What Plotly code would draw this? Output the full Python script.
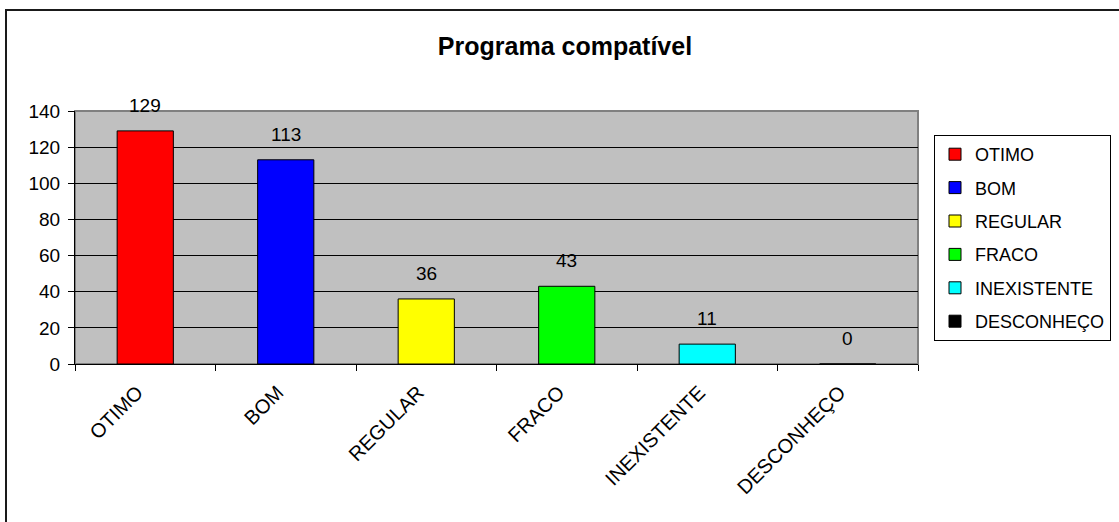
import plotly.graph_objects as go

categories = ["OTIMO", "BOM", "REGULAR", "FRACO", "INEXISTENTE", "DESCONHEÇO"]
values = [129, 113, 36, 43, 11, 0]
colors = ["#FF0000", "#0000FF", "#FFFF00", "#00FF00", "#00FFFF", "#000000"]
title_text = "Programa compatível"
y_ticks = [0, 20, 40, 60, 80, 100, 120, 140]

FONT = "Liberation Sans, Arial, sans-serif"

fig = go.Figure()
for i, (cat, val, col) in enumerate(zip(categories, values, colors)):
    fig.add_trace(go.Bar(
        x=[cat], y=[val], name=cat, width=0.4,
        marker=dict(color=col, line=dict(color="#000000", width=1)),
        legendgroup=f"g{i}", hoverinfo="x+y",
    ))
    fig.add_annotation(
        x=cat, y=val, text=str(val), showarrow=False,
        yanchor="bottom", yshift=13,
        font=dict(family=FONT, size=19, color="#000000"),
    )

L, R, T, B = 75, 201, 111, 158
W, H = 1119, 522
PW, PH = W - L - R, H - T - B

# outer chart border
fig.add_shape(type="rect", xref="paper", yref="paper",
              xsizemode="pixel", ysizemode="pixel", xanchor=0, yanchor=1,
              x0=6 - L, x1=W + 50 - L, y0=-(H + 50 - T), y1=T - 10,
              line=dict(color="#1a1a1a", width=2), layer="below")
# plot-area frame
fig.add_shape(type="rect", xref="paper", yref="paper",
              x0=0, x1=1, y0=0, y1=1,
              line=dict(color="#808080", width=2), layer="below")

fig.update_layout(
    width=W, height=H,
    margin=dict(l=L, r=R, t=T, b=B, autoexpand=False),
    paper_bgcolor="#FFFFFF", plot_bgcolor="#C0C0C0",
    barmode="overlay",
    font=dict(family=FONT, size=19, color="#000000"),
    title=dict(text=f"<b>{title_text}</b>", x=(565 - L) / PW, xref="paper", xanchor="center",
               y=1 - 46 / H, yanchor="middle",
               font=dict(family=FONT, size=25, color="#000000")),
    legend=dict(x=(934 - L) / PW, xanchor="left",
                y=(H - B - 135) / PH, yanchor="top",
                bordercolor="#000000", borderwidth=1, bgcolor="#FFFFFF",
                font=dict(family=FONT, size=18, color="#000000"),
                itemwidth=30, tracegroupgap=7, traceorder="grouped"),
    showlegend=True,
)
fig.update_xaxes(type="category", categoryorder="array", categoryarray=categories,
                 tickangle=-45, ticks="outside", ticklen=6, tickcolor="#000000",
                 tickson="boundaries", showline=True, linecolor="#000000", linewidth=1,
                 ticklabelstandoff=8, ticklabelshift=-8,
                 showgrid=False, tickfont=dict(family=FONT, size=20, color="#000000"))
fig.update_yaxes(range=[0, 140], tickvals=y_ticks, ticks="outside", ticklen=6,
                 tickcolor="#000000", showline=True, linecolor="#000000", linewidth=1,
                 ticklabelstandoff=4,
                 showgrid=True, gridcolor="#000000", gridwidth=1, zeroline=False,
                 tickfont=dict(family=FONT, size=19, color="#000000"))

fig.write_html("out.html", config={"displayModeBar": False},
               post_script="document.body.style.margin='0';document.body.style.padding='0';")
